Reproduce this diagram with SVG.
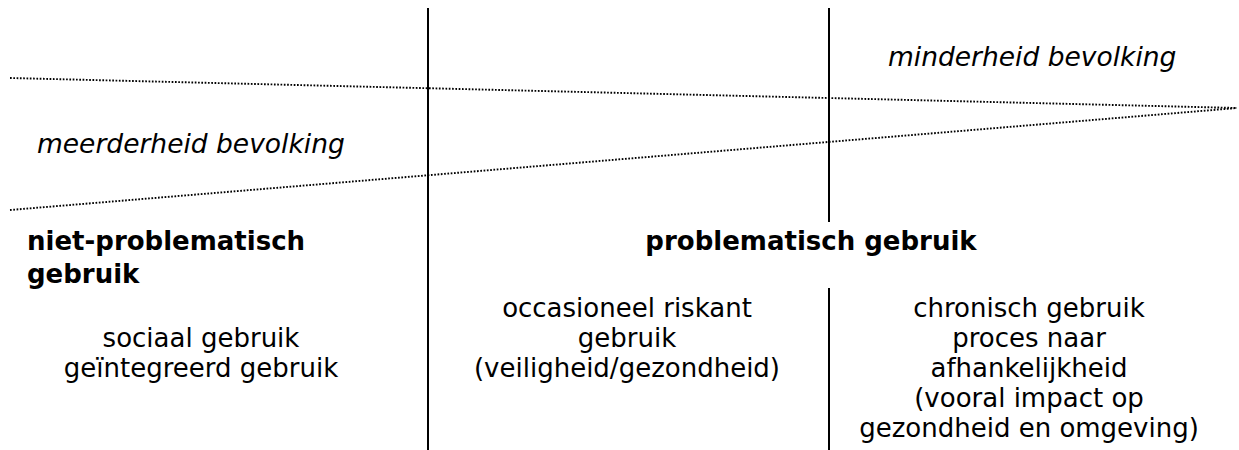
<svg xmlns="http://www.w3.org/2000/svg" width="1239" height="450" viewBox="0 0 1239 450">
<style>
text{font-family:"DejaVu Sans","Verdana",sans-serif;font-size:26px;fill:#000}
.it{font-style:italic;font-size:26.5px}
.b{font-weight:bold}
.c{text-anchor:middle}
.solid{stroke:#000;stroke-width:2;fill:none}
.dot{stroke:#000;stroke-width:1.9;stroke-dasharray:1.7 1.6;fill:none}
</style>
<rect width="1239" height="450" fill="#fff"/>
<g id="connectors">
<line class="dot" x1="10" y1="78" x2="1237" y2="108"/>
<line class="dot" x1="10" y1="210" x2="1237" y2="108"/>
<line class="solid" x1="428" y1="8" x2="428" y2="450"/>
<line class="solid" x1="829" y1="8" x2="829" y2="222"/>
<line class="solid" x1="829" y1="288" x2="829" y2="450"/>
</g>
<g id="minderheid">
<text class="it" x="888" y="66">minderheid bevolking</text>
</g>
<g id="meerderheid">
<text class="it" x="37" y="153">meerderheid bevolking</text>
</g>
<g id="niet-problematisch">
<text class="b" x="27" y="250">niet-problematisch</text>
<text class="b" x="27" y="283">gebruik</text>
</g>
<g id="problematisch">
<text class="b c" x="811" y="250">problematisch gebruik</text>
</g>
<g id="sociaal">
<text class="c" x="201" y="347">sociaal gebruik</text>
<text class="c" x="201" y="377">geïntegreerd gebruik</text>
</g>
<g id="occasioneel">
<text class="c" x="627" y="317">occasioneel riskant</text>
<text class="c" x="627" y="347">gebruik</text>
<text class="c" x="627" y="377">(veiligheid/gezondheid)</text>
</g>
<g id="chronisch">
<text class="c" x="1029" y="317">chronisch gebruik</text>
<text class="c" x="1029" y="347">proces naar</text>
<text class="c" x="1029" y="377">afhankelijkheid</text>
<text class="c" x="1029" y="407">(vooral impact op</text>
<text class="c" x="1029" y="437">gezondheid en omgeving)</text>
</g>
</svg>
